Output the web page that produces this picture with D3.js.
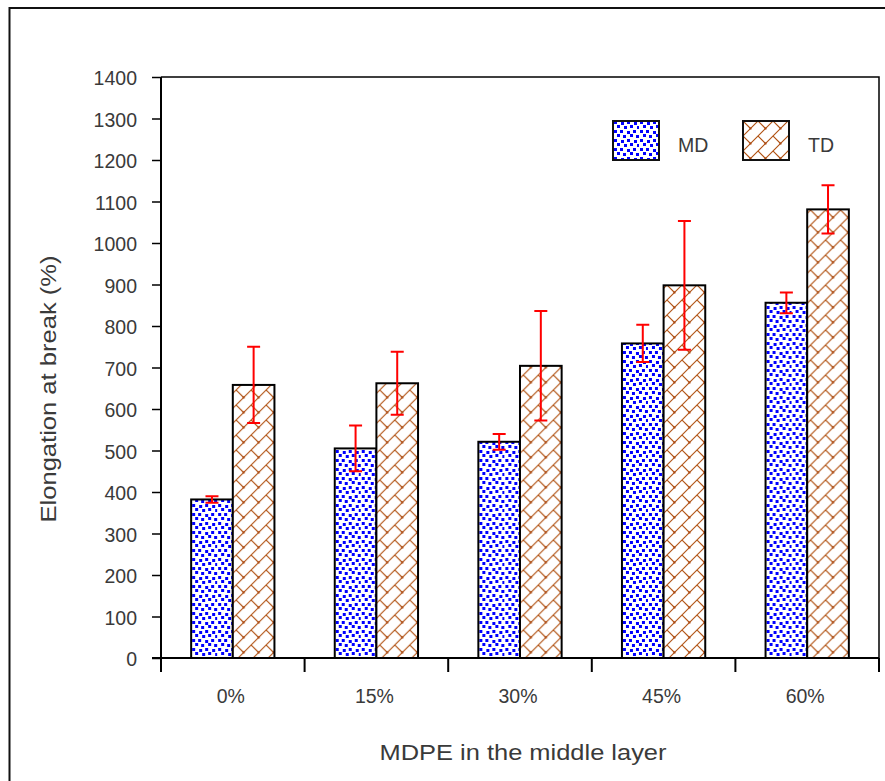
<!DOCTYPE html>
<html>
<head>
<meta charset="utf-8">
<script src="https://cdn.jsdelivr.net/npm/d3@7/dist/d3.min.js"></script>
<style>
  html, body { margin: 0; padding: 0; background: #fff; }
  svg { display: block; }
  text { font-family: "Liberation Sans", Arial, sans-serif; fill: #3a3a3a; }
</style>
</head>
<body>
<svg id="chart" width="885" height="781"></svg>
<script>
// Elongation at break (%) by MDPE content, machine (MD) and transverse (TD) direction
const categories = ["0%", "15%", "30%", "45%", "60%"];
const seriesNames = ["MD", "TD"];
const mdValues = [382, 505, 521, 758, 856];
const mdErrors = [8, 55, 19, 45, 25];
const tdValues = [658, 662, 704, 898, 1081];
const tdErrors = [92, 76, 132, 155, 58];
const yTickValues = [0, 100, 200, 300, 400, 500, 600, 700, 800, 900, 1000, 1100, 1200, 1300, 1400];

const svg = d3.select("#chart");
const plot = { left: 161, right: 879, top: 77, bottom: 658 };

// Fill patterns: blue squares for MD, brown brick net for TD
const defs = svg.append("defs");
const dots = defs.append("pattern")
  .attr("id", "pat-md").attr("patternUnits", "userSpaceOnUse")
  .attr("width", 26).attr("height", 18);
dots.append("rect").attr("width", 26).attr("height", 18).attr("fill", "#fff");
const dotPos = [[1,0],[8,1],[14,0],[21,1],[4,4],[11,5],[17,4],[24,5],
                [1,9],[7,9],[14,10],[20,9],[4,13],[10,14],[17,13],[23,14]];
dots.selectAll("rect.d").data(dotPos).join("rect").attr("class", "d")
  .attr("x", d => d[0]).attr("y", d => d[1])
  .attr("width", 3).attr("height", 3).attr("fill", "#0000ff")
  .attr("shape-rendering", "crispEdges");

const s = 15;
const net = defs.append("pattern")
  .attr("id", "pat-td").attr("patternUnits", "userSpaceOnUse")
  .attr("width", s).attr("height", s);
net.append("rect").attr("width", s).attr("height", s).attr("fill", "#fff");
net.append("path")
  .attr("d", `M-1,${s+1}L${s+1},-1 M0,0L${s/2},${s/2} M-1,1L1,-1 M${s-1},${s+1}L${s+1},${s-1}`)
  .attr("stroke", "#b0500f").attr("stroke-width", 1.1).attr("fill", "none");
net.append("rect").attr("x", s/2 - 1).attr("y", s/2 - 1).attr("width", 2).attr("height", 2).attr("fill", "#a9450e");

const fills = { MD: "url(#pat-md)", TD: "url(#pat-td)" };

// Outer frame
svg.append("rect").attr("x", 9.5).attr("y", 8).attr("width", 900).attr("height", 800)
  .attr("fill", "none").attr("stroke", "#111").attr("stroke-width", 2);

// Scales
const x = d3.scaleBand().domain(categories)
  .range([plot.left, plot.right]).paddingInner(0.42).paddingOuter(0.21);
const xs = d3.scaleBand().domain(seriesNames).range([0, x.bandwidth()]);
const y = d3.scaleLinear().domain([0, 1400]).range([plot.bottom, plot.top]);

// Plot box (top and right edges)
svg.append("path")
  .attr("d", `M${plot.left},${plot.top}H${plot.right}V${plot.bottom}`)
  .attr("fill", "none").attr("stroke", "#000").attr("stroke-width", 1.5);

// Bars
const rows = categories.map((c, i) => ({
  cat: c,
  items: [
    { key: "MD", value: mdValues[i], err: mdErrors[i] },
    { key: "TD", value: tdValues[i], err: tdErrors[i] }
  ]
}));
const groups = svg.append("g").selectAll("g").data(rows).join("g")
  .attr("transform", d => `translate(${x(d.cat)},0)`);
groups.selectAll("rect").data(d => d.items).join("rect")
  .attr("x", d => xs(d.key)).attr("width", xs.bandwidth())
  .attr("y", d => y(d.value)).attr("height", d => y(0) - y(d.value))
  .attr("fill", d => fills[d.key]).attr("stroke", "#000").attr("stroke-width", 2);

// Error bars
const cap = 6.5;
groups.selectAll("path.err").data(d => d.items).join("path").attr("class", "err")
  .attr("d", d => {
    const cx = xs(d.key) + xs.bandwidth() / 2;
    const y1 = y(d.value + d.err), y0 = y(d.value - d.err);
    return `M${cx},${y1}V${y0}M${cx - cap},${y1}H${cx + cap}M${cx - cap},${y0}H${cx + cap}`;
  })
  .attr("stroke", "#ff0000").attr("stroke-width", 2).attr("fill", "none");

// Y axis
const yAxis = d3.axisLeft(y).tickValues(yTickValues).tickFormat(d3.format("d"))
  .tickSize(9).tickPadding(15).tickSizeOuter(0);
const gy = svg.append("g").attr("transform", `translate(${plot.left},0)`).call(yAxis);
gy.select(".domain").attr("stroke", "#000").attr("stroke-width", 2)
  .attr("d", `M0,${plot.top}V${plot.bottom + 14}`);
gy.selectAll(".tick line").attr("stroke", "#000").attr("stroke-width", 1.5);
gy.selectAll(".tick text").attr("font-size", 19.5).attr("dy", "0.4em")
  .style("font-family", "'Liberation Sans', Arial, sans-serif").attr("fill", "#3a3a3a");

// X axis: category labels, ticks on the group boundaries
const gx = svg.append("g").attr("transform", `translate(0,${plot.bottom})`);
gx.append("path").attr("d", `M${plot.left - 9},0H${plot.right}`)
  .attr("stroke", "#000").attr("stroke-width", 2);
const boundaries = [plot.left].concat(categories.map(c => x(c) + x.bandwidth() + x.step() * x.paddingInner() / 2));
gx.selectAll("line.b").data(boundaries).join("line").attr("class", "b")
  .attr("x1", d => d).attr("x2", d => d).attr("y1", 0).attr("y2", 14)
  .attr("stroke", "#000").attr("stroke-width", 2);
gx.selectAll("text.cat").data(categories).join("text").attr("class", "cat")
  .attr("x", d => x(d) + x.bandwidth() / 2 - 2).attr("y", 45)
  .attr("text-anchor", "middle").attr("font-size", 19.5).text(d => d);

// Axis titles
svg.append("text")
  .attr("x", (plot.left + plot.right) / 2 + 3).attr("y", 760)
  .attr("text-anchor", "middle").attr("font-size", 22)
  .attr("textLength", 287).attr("lengthAdjust", "spacingAndGlyphs")
  .text("MDPE in the middle layer");
svg.append("text")
  .attr("transform", "translate(56,389) rotate(-90)")
  .attr("text-anchor", "middle").attr("font-size", 22)
  .attr("textLength", 267).attr("lengthAdjust", "spacingAndGlyphs")
  .text("Elongation at break (%)");

// Legend
const legendX = [613, 743];
const lg = svg.append("g").selectAll("g").data(seriesNames).join("g")
  .attr("transform", (d, i) => `translate(${legendX[i]},121)`);
lg.append("rect").attr("width", 46).attr("height", 39)
  .attr("fill", d => fills[d]).attr("stroke", "#111").attr("stroke-width", 2);
lg.append("text").attr("x", 65).attr("y", 31).attr("font-size", 19.5).text(d => d);
</script>
</body>
</html>
